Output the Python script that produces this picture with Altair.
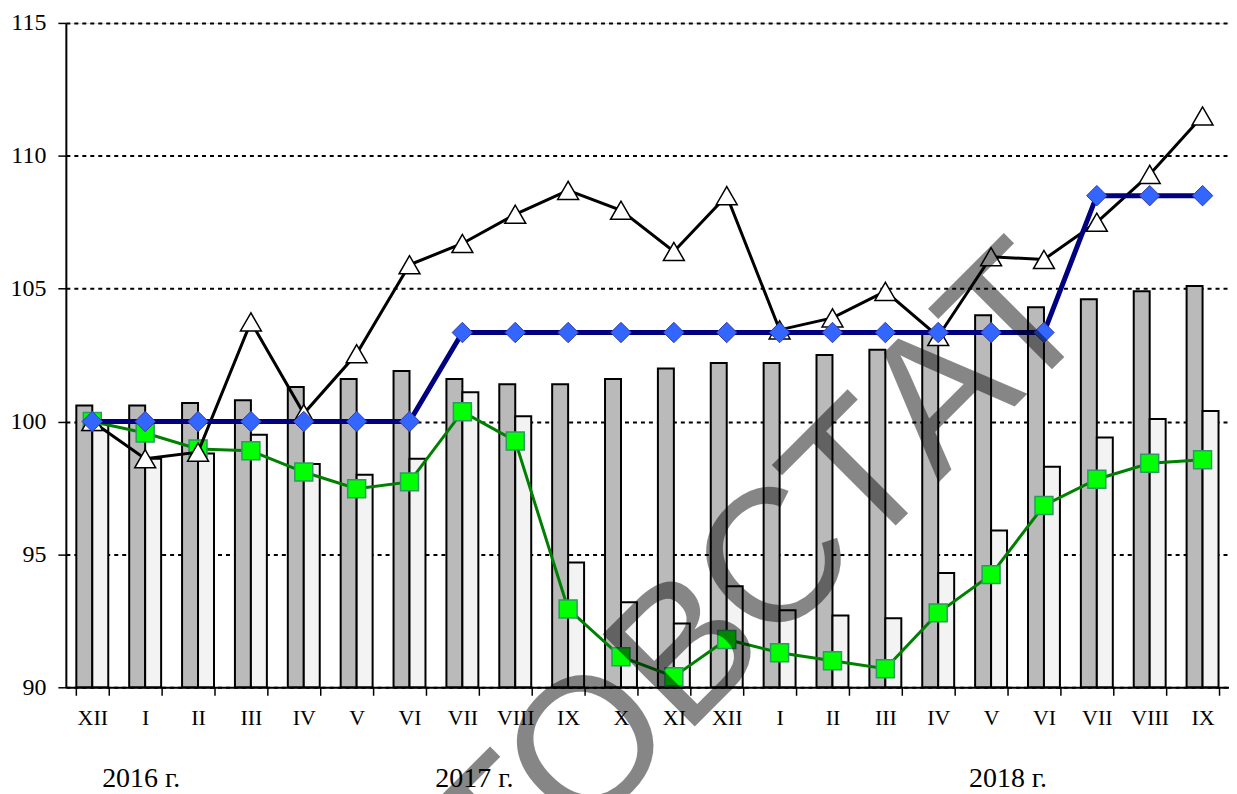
import altair as alt
import pandas as pd

# ---- data ----
cats = ["XII 2016", "I 2017", "II 2017", "III 2017", "IV 2017", "V 2017", "VI 2017",
        "VII 2017", "VIII 2017", "IX 2017", "X 2017", "XI 2017", "XII 2017",
        "I 2018", "II 2018", "III 2018", "IV 2018", "V 2018", "VI 2018",
        "VII 2018", "VIII 2018", "IX 2018"]

wavy_bars = [100.6, 100.6, 100.7, 100.8, 101.3, 101.6, 101.9, 101.6, 101.4, 101.4, 101.6,
             102.0, 102.2, 102.2, 102.5, 102.7, 103.3, 104.0, 104.3, 104.6, 104.9, 105.1]
dotted_bars = [100.0, 98.6, 98.8, 99.5, 98.4, 98.0, 98.6, 101.1, 100.2, 94.7, 93.2,
               92.4, 93.8, 92.9, 92.7, 92.6, 94.3, 95.9, 98.3, 99.4, 100.1, 100.4]
triangles = [100.0, 98.6, 98.85, 103.75, 100.3, 102.55, 105.9, 106.7, 107.8, 108.7, 107.95,
             106.4, 108.5, 103.45, 103.9, 104.9, 103.2, 106.2, 106.1, 107.5, 109.3, 111.5]
diamonds = [100.0] * 7 + [103.35] * 12 + [108.5] * 3
squares = [100.0, 99.57, 98.97, 98.9, 98.1, 97.47, 97.73, 100.37, 99.27, 92.95, 91.15,
           90.4, 91.8, 91.3, 91.0, 90.7, 92.8, 94.24, 96.84, 97.83, 98.43, 98.56]

y_ticks = [90, 95, 100, 105, 110, 115]
year_labels = ["2016 г.", "2017 г.", "2018 г."]
year_anchor = ["I 2017", "VII 2017", "V 2018"]
watermark = "ТОВСТАТ"

SERIF = "Liberation Serif"

# ---- tables ----
bars_df = pd.DataFrame({
    "cat": cats * 2,
    "series": ["wavy"] * len(cats) + ["dotted"] * len(cats),
    "value": wavy_bars + dotted_bars,
})
tri_df = pd.DataFrame({"cat": cats, "value": triangles})
dia_df = pd.DataFrame({"cat": cats, "value": diamonds})
sq_df = pd.DataFrame({"cat": cats, "value": squares})

x_enc = alt.X(
    "cat:N", sort=cats, title=None,
    scale=alt.Scale(paddingInner=0.396, paddingOuter=0.198),
    axis=alt.Axis(
        labelExpr="split(datum.label, ' ')[0]",
        labelFont=SERIF, labelFontSize=22, labelColor="black", labelAngle=0,
        labelPadding=12, tickBand="extent", tickSize=8, tickColor="black",
        tickWidth=1.5, domainColor="black", domainWidth=2, grid=False,
    ),
)
y_scale = alt.Scale(domain=[90, 115], nice=False, zero=False)
y_enc = alt.Y(
    "value:Q", scale=y_scale, title=None,
    axis=alt.Axis(
        values=y_ticks, labelFont=SERIF, labelFontSize=24, labelColor="black",
        labelPadding=12, tickSize=8, tickColor="black", tickWidth=1.5,
        domainColor="black", domainWidth=2, grid=True, gridColor="black",
        gridDash=[4, 4], gridWidth=2,
    ),
)

bars = alt.Chart(bars_df).mark_bar(stroke="black", strokeWidth=2).encode(
    x=x_enc,
    xOffset=alt.XOffset("series:N", sort=["wavy", "dotted"],
                        scale=alt.Scale(paddingInner=0, paddingOuter=0)),
    y=y_enc,
    y2=alt.datum(90),
    color=alt.Color("series:N", legend=None,
                    scale=alt.Scale(domain=["wavy", "dotted"],
                                    range=["#bababa", "#f3f3f3"])),
)

green_line = alt.Chart(sq_df).mark_line(color="#008000", strokeWidth=3).encode(x=x_enc, y=y_enc)
green_pts = alt.Chart(sq_df).mark_point(
    shape="square", size=324, filled=True, fill="#00ff00", stroke="#2e9a60",
    strokeWidth=1.5, opacity=1).encode(x=x_enc, y=y_enc)

black_line = alt.Chart(tri_df).mark_line(color="black", strokeWidth=3).encode(x=x_enc, y=y_enc)
black_pts = alt.Chart(tri_df).mark_point(
    shape="triangle-up", size=440, filled=True, fill="white", stroke="black",
    strokeWidth=1.5, opacity=1).encode(x=x_enc, y=y_enc)

blue_line = alt.Chart(dia_df).mark_line(color="#000080", strokeWidth=5).encode(x=x_enc, y=y_enc)
blue_pts = alt.Chart(dia_df).mark_point(
    shape="diamond", size=420, filled=True, fill="#3366ff", stroke="#3a3aa0",
    strokeWidth=1, opacity=1).encode(x=x_enc, y=y_enc)

year_layers = []
for lab, anc, dx in zip(year_labels, year_anchor, [-4, 12, 17]):
    year_layers.append(
        alt.Chart(pd.DataFrame({"cat": [anc], "label": [lab]})).mark_text(
            font=SERIF, fontSize=28, color="black", baseline="alphabetic",
            align="center", dx=dx,
        ).encode(x=alt.X("cat:N", sort=cats), y=alt.value(766), text="label:N")
    )

wm = alt.Chart(pd.DataFrame({"t": [watermark]})).mark_text(
    font="Liberation Sans", fontSize=190, color="black", opacity=0.47,
    angle=315, align="center", baseline="middle",
).encode(x=alt.value(697), y=alt.value(558), text="t:N")

chart = alt.layer(
    bars, green_line, green_pts, black_line, black_pts, blue_line, blue_pts,
    *year_layers, wm
).properties(
    width=1166, height=666,
    padding={"left": 58, "top": 14, "right": 0, "bottom": 106},
    autosize=alt.AutoSizeParams(type="none"),
).configure_view(stroke=None).configure(background="white")

chart.save("out.html", embed_options={"renderer": "svg", "actions": False})
